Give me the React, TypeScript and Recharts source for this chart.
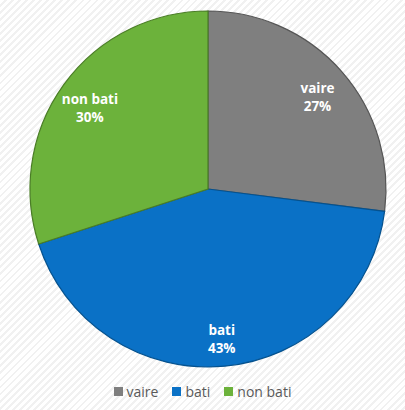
import React from "react";
import { PieChart, Pie, Cell, Legend } from "recharts";

const categories = ["vaire", "bati", "non bati"];
const values = [27, 43, 30];
const colors = ["#7f7f7f", "#0a71c6", "#6cb23b"];
const strokes = ["#555555", "#05528f", "#4a7d26"];

const data = categories.map((name, i) => ({ name, value: values[i] }));

const RAD = Math.PI / 180;

const renderLabel = (props: any) => {
  const { cx, cy, midAngle, outerRadius, name, percent } = props;
  const r = outerRadius * 0.82;
  const x = cx + r * Math.cos(-midAngle * RAD);
  const y = cy + r * Math.sin(-midAngle * RAD);
  return (
    <text
      x={x}
      y={y}
      textAnchor="middle"
      fill="#ffffff"
      fontFamily="'Open Sans', sans-serif"
      fontWeight="bold"
      fontSize={13.5}
    >
      <tspan x={x} dy={1}>{name}</tspan>
      <tspan x={x} dy={18}>{`${Math.round(percent * 100)}%`}</tspan>
    </text>
  );
};

const renderLegend = () => {
  return (
    <div
      style={{
        display: "flex",
        justifyContent: "center",
        alignItems: "center",
        fontFamily: "'Open Sans', sans-serif",
        fontSize: 14,
        color: "#595959",
        gap: 14,
      }}
    >
      {categories.map((name, i) => (
        <div key={name} style={{ display: "flex", alignItems: "center" }}>
          <span
            style={{
              display: "inline-block",
              width: 9,
              height: 9,
              background: colors[i],
              marginRight: 4,
            }}
          />
          <span>{name}</span>
        </div>
      ))}
    </div>
  );
};

export default function App() {
  return (
    <div
      style={{
        position: "absolute",
        left: 0,
        top: 0,
        width: 405,
        height: 410,
        background:
          "repeating-linear-gradient(135deg, #ffffff 0px, #ffffff 3px, #f1f1f1 3px, #f1f1f1 5px)",
      }}
    >
      <PieChart width={405} height={410} margin={{ top: 0, right: 0, bottom: 0, left: 0 }}>
        <Pie
          data={data}
          dataKey="value"
          nameKey="name"
          cx={208}
          cy={189}
          outerRadius={178}
          startAngle={90}
          endAngle={-270}
          label={renderLabel}
          labelLine={false}
          isAnimationActive={false}
        >
          {data.map((d, i) => (
            <Cell key={d.name} fill={colors[i]} stroke={strokes[i]} strokeWidth={1.2} />
          ))}
        </Pie>
        <Legend
          content={renderLegend}
          wrapperStyle={{ position: "absolute", top: 382, left: 0, width: 405 }}
        />
      </PieChart>
    </div>
  );
}
